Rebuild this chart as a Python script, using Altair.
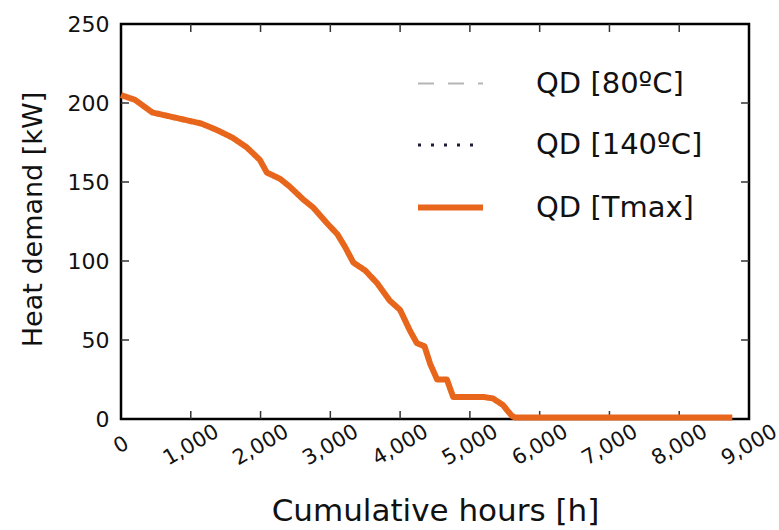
import altair as alt
import pandas as pd

# ---- data ----
hours = [0, 200, 450, 650, 950, 1150, 1370, 1600, 1800, 1990, 2090, 2280, 2420,
         2610, 2750, 2950, 3100, 3210, 3330, 3500, 3670, 3850, 4000, 4140, 4240,
         4350, 4430, 4530, 4670, 4760, 5190, 5330, 5470, 5600, 5650, 8760]
qd = [205, 202, 194, 192, 189, 187, 183, 178, 172, 164, 156, 152, 147,
      139, 134, 124, 117, 109, 99, 94, 86, 75, 69, 56, 48,
      46, 35, 25, 25, 14, 14, 13, 9, 2, 1, 1]
series_names = ["QD [80ºC]", "QD [140ºC]", "QD [Tmax]"]
x_tick_values = [0, 1000, 2000, 3000, 4000, 5000, 6000, 7000, 8000, 9000]
y_tick_values = [0, 50, 100, 150, 200, 250]
inner_x_ticks = [1000, 2000, 3000, 4000, 5000, 6000, 7000, 8000]
inner_y_ticks = [50, 100, 150, 200]

colors = ["#b5b5b5", "#1c1c3a", "#e8661c"]
dashes = [[16, 14], [3, 10], [1, 0]]
widths = [2, 3, 6]

W, H = 628, 395
FONT = "DejaVu Sans"

rows = []
for s in series_names:
    for h, q in zip(hours, qd):
        rows.append({"h": h, "q": q, "s": s})
df = pd.DataFrame(rows)

xscale = alt.Scale(domain=[0, 9000], nice=False, zero=False)
yscale = alt.Scale(domain=[0, 250], nice=False)

legend = alt.Legend(title=None, orient="none", legendX=294, legendY=26,
                    symbolType="stroke", symbolSize=4225, labelOffset=50,
                    labelFontSize=29, labelFont=FONT, labelColor="#111111",
                    labelLimit=400, rowPadding=12, padding=0, symbolOpacity=1)

lines = alt.Chart(df).mark_line(strokeCap="butt", strokeJoin="round").encode(
    x=alt.X("h:Q", scale=xscale,
            axis=alt.Axis(values=x_tick_values, format=",.0f", title="Cumulative hours [h]",
                          labelAngle=330, labelAlign="center", labelBaseline="middle",
                          labelPadding=26, ticks=False, domain=False, grid=False,
                          labelFontSize=21, labelFont=FONT, labelColor="#111111",
                          titleFontSize=31, titleFont=FONT, titleFontWeight="normal",
                          titleColor="#111111", titleBaseline="middle", titleY=92,
                          labelFlush=False, labelOverlap=False)),
    y=alt.Y("q:Q", scale=yscale,
            axis=alt.Axis(values=y_tick_values, title="Heat demand [kW]",
                          ticks=False, domain=False, grid=False, labelPadding=12,
                          labelFontSize=22, labelFont=FONT, labelColor="#111111",
                          labelBaseline="middle",
                          titleFontSize=27, titleFont=FONT, titleFontWeight="normal",
                          titleColor="#111111", titleAngle=270, titleX=-88, titleY=195,
                          titleAlign="center", titleBaseline="middle",
                          labelFlush=False, labelOverlap=False)),
    color=alt.Color("s:N", scale=alt.Scale(domain=series_names, range=colors), legend=legend),
    strokeDash=alt.StrokeDash("s:N", scale=alt.Scale(domain=series_names, range=dashes), legend=legend),
    strokeWidth=alt.StrokeWidth("s:N", scale=alt.Scale(type="ordinal", domain=series_names, range=widths), legend=legend),
)

tx = pd.DataFrame({"t": inner_x_ticks})
ty = pd.DataFrame({"t": inner_y_ticks})
tick_col = "#333333"
bottom_ticks = alt.Chart(tx).mark_rule(color=tick_col, strokeWidth=1.5).encode(
    x=alt.X("t:Q", scale=xscale), y=alt.value(H), y2=alt.value(H - 8))
top_ticks = alt.Chart(tx).mark_rule(color=tick_col, strokeWidth=1.5).encode(
    x=alt.X("t:Q", scale=xscale), y=alt.value(0), y2=alt.value(8))
left_ticks = alt.Chart(ty).mark_rule(color=tick_col, strokeWidth=1.5).encode(
    y=alt.Y("t:Q", scale=yscale), x=alt.value(0), x2=alt.value(8))
right_ticks = alt.Chart(ty).mark_rule(color=tick_col, strokeWidth=1.5).encode(
    y=alt.Y("t:Q", scale=yscale), x=alt.value(W), x2=alt.value(W - 8))

chart = alt.layer(bottom_ticks, top_ticks, left_ticks, right_ticks, lines).properties(
    width=W, height=H,
    padding={"left": 121, "top": 24, "right": 30, "bottom": 111},
    autosize=alt.AutoSizeParams(type="none"),
    background="white",
).configure_view(stroke="black", strokeWidth=2.5)

chart.save("out.html", embed_options={"renderer": "svg", "actions": False})
